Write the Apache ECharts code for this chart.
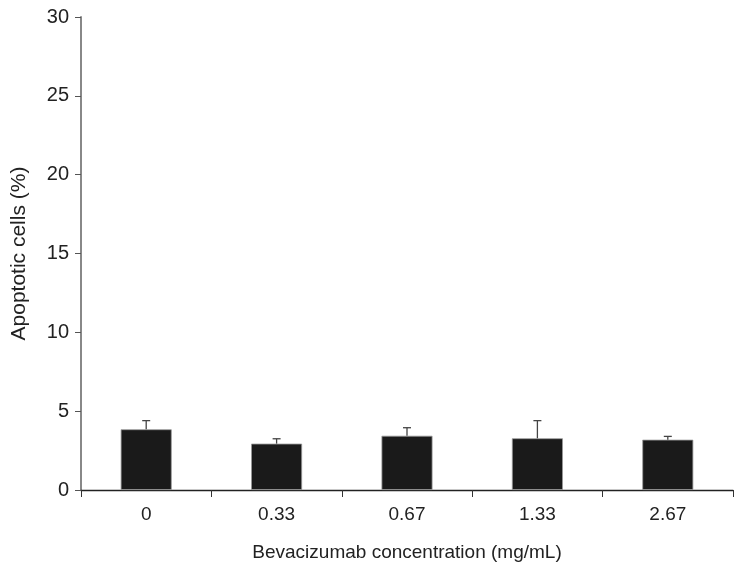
<!DOCTYPE html>
<html>
<head>
<meta charset="utf-8">
<script src="https://cdn.jsdelivr.net/npm/echarts@6/dist/echarts.min.js"></script>
<style>
  html, body { margin: 0; padding: 0; background: #fff; }
  #chart { width: 744px; height: 574px; }
</style>
</head>
<body>
<div id="chart"></div>
<script>
const categories = ["0", "0.33", "0.67", "1.33", "2.67"];
const means = [3.85, 2.94, 3.44, 3.28, 3.19];
const errTops = [4.4, 3.25, 3.95, 4.4, 3.4];
const yTicks = [0, 5, 10, 15, 20, 25, 30];

const chart = echarts.init(document.getElementById("chart"));
const font = "Liberation Sans, Arial, sans-serif";

const option = {
  animation: false,
  grid: { left: 81, right: 11, top: 17, bottom: 84, containLabel: false, outerBoundsMode: "none" },
  xAxis: {
    type: "category",
    data: categories,
    name: "Bevacizumab concentration (mg/mL)",
    nameLocation: "middle",
    nameGap: 53,
    nameTextStyle: { color: "#222", fontSize: 19, fontFamily: font },
    axisLine: { lineStyle: { color: "#222", width: 1.3 } },
    axisTick: { show: true, inside: false, length: 7, alignWithLabel: false, lineStyle: { color: "#333" } },
    axisLabel: { color: "#222", fontSize: 19, fontFamily: font, margin: 15 },
    splitLine: { show: false },
  },
  yAxis: {
    type: "value",
    min: 0,
    max: 30,
    interval: 5,
    name: "Apoptotic cells (%)",
    nameLocation: "middle",
    nameGap: 51,
    nameTextStyle: { color: "#222", fontSize: 21, fontFamily: font },
    axisLine: { show: true, lineStyle: { color: "#888", width: 2 } },
    axisTick: { show: true, length: 6, lineStyle: { color: "#555" } },
    axisLabel: {
      color: "#222", fontSize: 20, fontFamily: font, margin: 12,
      formatter: v => (yTicks.indexOf(v) >= 0 ? String(v) : ""),
    },
    splitLine: { show: false },
  },
  series: [
    {
      name: "mean",
      type: "bar",
      data: means,
      barWidth: 51,
      itemStyle: { color: "#1a1a1a", borderColor: "#999", borderWidth: 0.8 },
      z: 2,
    },
    {
      name: "error",
      type: "custom",
      data: categories.map((c, i) => [i, means[i], errTops[i]]),
      z: 3,
      renderItem: function (params, api) {
        const base = api.coord([api.value(0), api.value(1)]);
        const top = api.coord([api.value(0), api.value(2)]);
        const half = 4;
        const style = { stroke: "#444", lineWidth: 1.3 };
        return {
          type: "group",
          children: [
            { type: "line", shape: { x1: base[0], y1: base[1], x2: top[0], y2: top[1] }, style: style },
            { type: "line", shape: { x1: top[0] - half, y1: top[1], x2: top[0] + half, y2: top[1] }, style: style },
          ],
        };
      },
    },
  ],
};
chart.setOption(option);
</script>
</body>
</html>
